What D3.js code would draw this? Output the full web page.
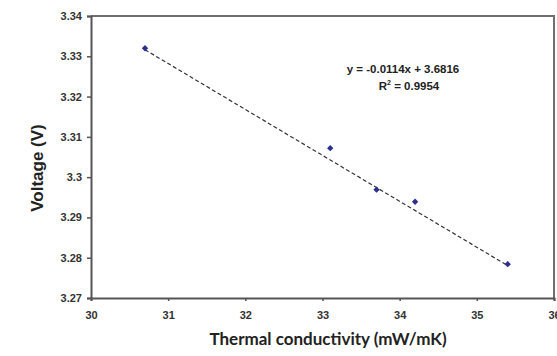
<!DOCTYPE html>
<html><head><meta charset="utf-8">
<script src="https://cdn.jsdelivr.net/npm/d3@7"></script>
<style>body{margin:0;background:#fff}svg{display:block}</style>
</head><body>
<svg id="c" width="557" height="356"></svg>
<script>
const conductivity = [30.7, 33.1, 33.7, 34.2, 35.4];
const voltage = [3.332, 3.3072, 3.2969, 3.2939, 3.2784];
const xTicks = [30, 31, 32, 33, 34, 35, 36];
const yTicks = [3.27, 3.28, 3.29, 3.30, 3.31, 3.32, 3.33, 3.34];
const yTickLabels = ["3.27","3.28","3.29","3.3","3.31","3.32","3.33","3.34"];
const slope = -0.0114, intercept = 3.6816;
const eqText = "y = -0.0114x + 3.6816";
const r2Value = "0.9954";

const svg = d3.select("#c");
const x = d3.scaleLinear().domain([30, 36]).range([91, 554]);
const y = d3.scaleLinear().domain([3.27, 3.34]).range([298, 16]);
const tickFont = "Liberation Sans, Arial, sans-serif";

// plot border (top/right)
svg.append("path")
  .attr("d", `M${x(30)},${y(3.34)}H${x(36)}V${y(3.27)}`)
  .attr("fill","none").attr("stroke","#6e6e6e").attr("stroke-width",2);

// axes
const yAxis = svg.append("g").attr("transform",`translate(${x(30)},0)`)
  .call(d3.axisLeft(y).tickValues(yTicks).tickFormat((d,i)=>yTickLabels[i]).tickSizeOuter(0).tickSize(4).tickPadding(5));
const xAxis = svg.append("g").attr("transform",`translate(0,${y(3.27)})`)
  .call(d3.axisBottom(x).tickValues(xTicks).tickFormat(d3.format("d")).tickSizeOuter(0).tickSize(3).tickPadding(10));
[yAxis, xAxis].forEach(g=>{
  g.select(".domain").attr("stroke","#555").attr("stroke-width",2);
  g.selectAll(".tick line").attr("stroke","#555").attr("stroke-width",1.5);
  g.selectAll("text").attr("font-family",tickFont).attr("font-weight","bold")
    .attr("font-size",11).attr("fill","#333");
});

// trendline
const x0 = d3.min(conductivity), x1 = d3.max(conductivity);
svg.append("line")
  .attr("x1", x(x0)).attr("y1", y(slope*x0+intercept))
  .attr("x2", x(x1)).attr("y2", y(slope*x1+intercept))
  .attr("stroke","#333").attr("stroke-width",1.2).attr("stroke-dasharray","4,2.5");

// points
svg.selectAll(".pt").data(conductivity).enter().append("path")
  .attr("class","pt")
  .attr("transform",(d,i)=>`translate(${x(d)},${y(voltage[i])}) rotate(45)`)
  .attr("d", d3.symbol(d3.symbolSquare, 20))
  .attr("fill","#2b2f8f");

// equation
svg.append("text").attr("x",403).attr("y",73).attr("text-anchor","middle")
  .attr("font-family",tickFont).attr("font-weight","bold").attr("font-size",11.5).attr("fill","#222")
  .text(eqText);
const r2 = svg.append("text").attr("x",409).attr("y",90).attr("text-anchor","middle")
  .attr("font-family",tickFont).attr("font-weight","bold").attr("font-size",11.5).attr("fill","#222");
r2.append("tspan").text("R");
r2.append("tspan").attr("dy",-5).attr("font-size",7).text("2");
r2.append("tspan").attr("dy",5).text(" = " + r2Value);

// axis titles
svg.append("text").attr("transform","translate(43,168) rotate(-90)").attr("text-anchor","middle")
  .attr("font-family",tickFont).attr("font-weight","bold").attr("font-size",17).attr("fill","#222")
  .text("Voltage (V)");
svg.append("text").attr("x",328).attr("y",345).attr("text-anchor","middle")
  .attr("font-family","Lato, 'Open Sans', sans-serif").attr("font-weight","bold").attr("font-size",17).attr("fill","#222")
  .text("Thermal conductivity (mW/mK)");
</script>
</body></html>
